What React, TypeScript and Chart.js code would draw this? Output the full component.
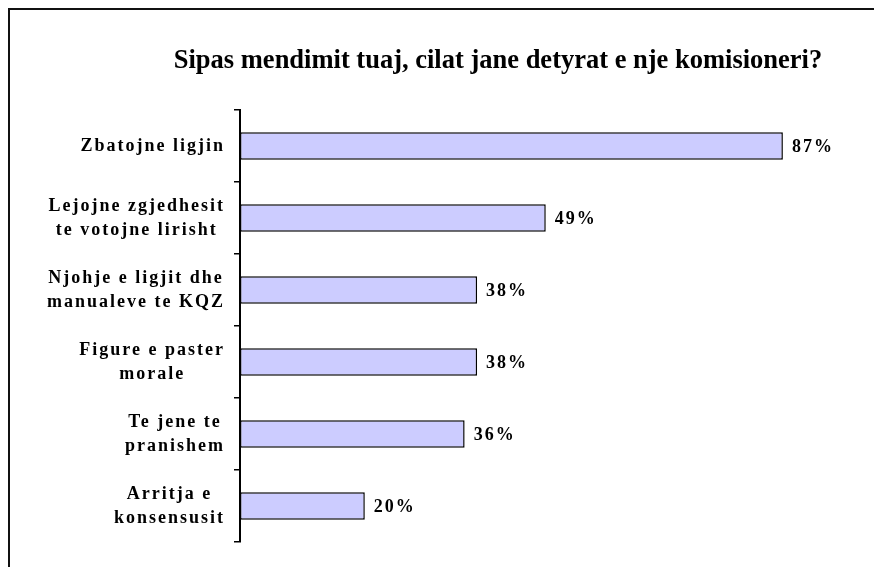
import React, { useEffect, useRef } from "react";
import { Chart, registerables } from "chart.js";

Chart.register(...registerables);

const TITLE = "Sipas mendimit tuaj, cilat jane detyrat e nje komisioneri?";
const categories: string[][] = [
  ["Zbatojne ligjin"],
  ["Lejojne zgjedhesit", "te votojne lirisht"],
  ["Njohje e ligjit dhe", "manualeve te KQZ"],
  ["Figure e paster", "morale"],
  ["Te jene te", "pranishem"],
  ["Arritja e", "konsensusit"],
];
const values: number[] = [87, 49, 38, 38, 36, 20];

const FONT = "'Liberation Serif', 'Times New Roman', serif";

const textPlugin = {
  id: "customText",
  afterDatasetsDraw(chart: any) {
    const ctx = chart.ctx as CanvasRenderingContext2D;
    const y = chart.scales.y;
    const meta = chart.getDatasetMeta(0);
    ctx.save();
    // title
    ctx.fillStyle = "#000";
    ctx.font = `bold 26.5px ${FONT}`;
    (ctx as any).letterSpacing = "0px";
    ctx.textAlign = "center";
    ctx.textBaseline = "middle";
    ctx.fillText(TITLE, 488, 51);

    // category labels
    ctx.font = `bold 18px ${FONT}`;
    (ctx as any).letterSpacing = "2px";
    ctx.textAlign = "center";
    const lineH = 24;
    const blockRight = 215;
    categories.forEach((lines, i) => {
      const cy = y.getPixelForValue(i);
      const maxW = Math.max(...lines.map((l) => ctx.measureText(l).width));
      const cx = blockRight - maxW / 2;
      const startY = cy - ((lines.length - 1) * lineH) / 2;
      lines.forEach((l, k) => ctx.fillText(l, cx, startY + k * lineH));
    });

    // value labels
    ctx.textAlign = "left";
    (ctx as any).letterSpacing = "2px";
    meta.data.forEach((bar: any, i: number) => {
      ctx.fillText(values[i] + "%", bar.x + 9, bar.y + 1);
    });
    ctx.restore();
  },
};

export default function App() {
  const ref = useRef<HTMLCanvasElement>(null);
  useEffect(() => {
    if (!ref.current) return;
    const chart = new Chart(ref.current, {
      type: "bar",
      data: {
        labels: categories.map((c) => c.join(" ")),
        datasets: [
          {
            data: values,
            backgroundColor: "#CCCCFF",
            borderColor: "#000",
            borderWidth: 1.5,
            borderSkipped: false,
            categoryPercentage: 1,
            barPercentage: 0.38,
          },
        ],
      },
      options: {
        indexAxis: "y",
        animation: false,
        responsive: false,
        layout: { padding: { left: 224, right: 18, top: 100, bottom: 25 } },
        plugins: {
          legend: { display: false },
          title: { display: false },
          tooltip: { enabled: false },
        },
        scales: {
          x: { display: false, min: 0, max: 100 },
          y: {
            grid: {
              display: true,
              drawOnChartArea: false,
              drawTicks: true,
              tickLength: 6,
              offset: true,
              color: "#000",
              lineWidth: 1.5,
            },
            border: { display: true, color: "#000", width: 2 },
            ticks: { display: false },
          },
        },
      },
      plugins: [textPlugin],
    });
    return () => chart.destroy();
  }, []);
  return (
    <div
      style={{
        width: 874,
        height: 559,
        boxSizing: "border-box",
        borderTop: "2px solid #111",
        borderLeft: "2px solid #111",
        background: "#fff",
      }}
    >
      <canvas ref={ref} width={872} height={557} style={{ display: "block" }} />
    </div>
  );
}
